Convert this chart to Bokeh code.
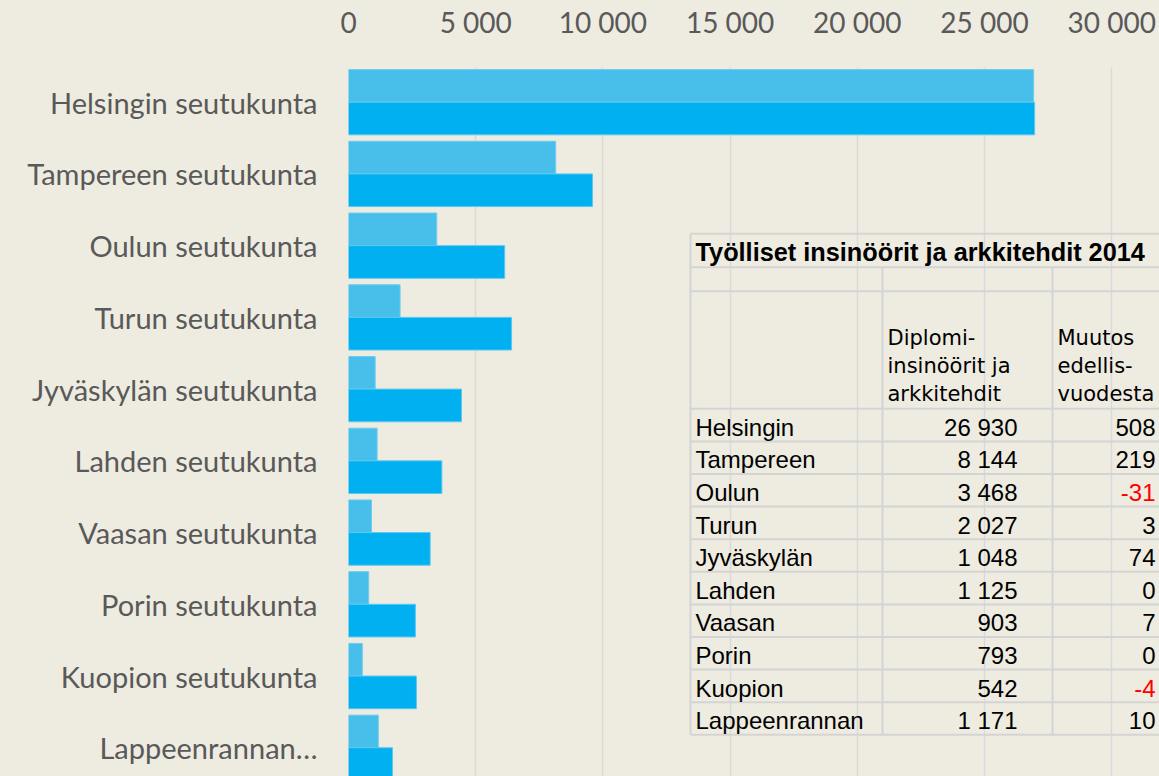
from bokeh.plotting import figure
from bokeh.models import Range1d, FixedTicker, ColumnDataSource, GlobalInlineStyleSheet
from bokeh.core.properties import value
from bokeh.embed import file_html
from bokeh.resources import INLINE

# ---------------- data ----------------
categories = ["Helsingin seutukunta", "Tampereen seutukunta", "Oulun seutukunta",
              "Turun seutukunta", "Jyväskylän seutukunta", "Lahden seutukunta",
              "Vaasan seutukunta", "Porin seutukunta", "Kuopion seutukunta",
              "Lappeenrannan seutukunta"]
category_labels = ["Helsingin seutukunta", "Tampereen seutukunta", "Oulun seutukunta",
                   "Turun seutukunta", "Jyväskylän seutukunta", "Lahden seutukunta",
                   "Vaasan seutukunta", "Porin seutukunta", "Kuopion seutukunta",
                   "Lappeenrannan…"]
diplomi = [26930, 8144, 3468, 2027, 1048, 1125, 903, 793, 542, 1171]
insinoorit = [26970, 9590, 6140, 6410, 4440, 3670, 3210, 2630, 2670, 1730]
muutos = [508, 219, -31, 3, 74, 0, 7, 0, -4, 10]
table_names = ["Helsingin", "Tampereen", "Oulun", "Turun", "Jyväskylän", "Lahden",
               "Vaasan", "Porin", "Kuopion", "Lappeenrannan"]
x_ticks = [0, 5000, 10000, 15000, 20000, 25000, 30000]
table_title = "Työlliset insinöörit ja arkkitehdit 2014"
header_col2 = ["Diplomi-", "insinöörit ja", "arkkitehdit"]
header_col3 = ["Muutos", "edellis-", "vuodesta"]

# ---------------- style ----------------
BG = "#EEEBE0"
TXT = "#595959"
LIGHT = "#48BEEA"
DARK = "#00B0F0"
GRID = "#D9D9D9"
TBL_LINE = "#D4D4D4"

W, H = 1159, 776
LEFT, TOP = 348, 67
PX_PER_5000 = 127.2
X_END = (W - LEFT) * 5000 / PX_PER_5000
BAND = 71.73
Y_TOP = -34.7 / BAND
Y_BOT = Y_TOP + (H - TOP) / BAND

p = figure(width=W, height=H, output_backend="svg", toolbar_location=None,
           x_axis_location="above",
           x_range=Range1d(0, X_END), y_range=Range1d(Y_BOT, Y_TOP),
           min_border_left=LEFT, min_border_right=0, min_border_top=TOP,
           min_border_bottom=0)
p.background_fill_color = BG
p.border_fill_color = BG
p.outline_line_color = None
p.stylesheets = [GlobalInlineStyleSheet(css="html, body { background-color: #EEEBE0; }")]

# axes
xa = p.xaxis[0]
xa.ticker = FixedTicker(ticks=x_ticks)
xa.major_label_overrides = {t: f"{t:,}".replace(",", " ") for t in x_ticks}
xa.axis_line_color = None
xa.major_tick_line_color = None
xa.minor_tick_line_color = None
xa.major_tick_out = 0
xa.major_tick_in = 0
xa.minor_tick_out = 0
xa.major_label_text_font = "Lato"
xa.major_label_text_font_size = "28px"
xa.major_label_text_color = TXT
xa.major_label_standoff = 29

ya = p.yaxis[0]
ya.ticker = FixedTicker(ticks=list(range(len(categories))))
ya.major_label_overrides = {i: lab for i, lab in enumerate(category_labels)}
ya.axis_line_color = None
ya.major_tick_line_color = None
ya.minor_tick_line_color = None
ya.major_tick_out = 0
ya.major_tick_in = 0
ya.minor_tick_out = 0
ya.major_label_text_font = "Lato"
ya.major_label_text_font_size = "29px"
ya.major_label_text_color = TXT
ya.major_label_standoff = 31

p.xgrid.grid_line_color = GRID
p.xgrid.grid_line_width = 1.5
p.ygrid.grid_line_color = None

# bars
idx = list(range(len(categories)))
BH = 0.455
src = ColumnDataSource(dict(
    y_light=[i - BH / 2 for i in idx], y_dark=[i + BH / 2 for i in idx],
    diplomi=diplomi, insinoorit=insinoorit))
p.hbar(y="y_light", left=0, right="diplomi", height=BH, source=src,
       fill_color=LIGHT, line_color="#6ACDF0", line_width=1)
p.hbar(y="y_dark", left=0, right="insinoorit", height=BH, source=src,
       fill_color=DARK, line_color="#5CC8F0", line_width=1)

# ---------------- table overlay (page px -> data) ----------------
def dx(px):
    return (px - LEFT) * 5000 / PX_PER_5000

def dy(py):
    return Y_TOP + (py - TOP) / BAND

T_LEFT, C1, C2 = 690, 882, 1052
T_TOP, TITLE_B, EMPTY_B, HEAD_B = 233.3, 266.7, 290.7, 408.3
ROW = 32.6
n = len(table_names)
row_bottoms = [HEAD_B + ROW * (k + 1) for k in range(n)]
T_BOT = row_bottoms[-1]

hlines = [T_TOP, TITLE_B, EMPTY_B, HEAD_B] + row_bottoms
p.segment(x0=[dx(T_LEFT)] * len(hlines), x1=[X_END] * len(hlines),
          y0=[dy(v) for v in hlines], y1=[dy(v) for v in hlines],
          line_color=TBL_LINE, line_width=2)
p.segment(x0=[dx(T_LEFT), dx(C1), dx(C2)], x1=[dx(T_LEFT), dx(C1), dx(C2)],
          y0=[dy(T_TOP), dy(TITLE_B), dy(TITLE_B)], y1=[dy(T_BOT)] * 3,
          line_color=TBL_LINE, line_width=2)

p.text(x=[dx(695)], y=[dy(251)], text=[table_title],
       text_font=value("Liberation Sans"), text_font_style="bold",
       text_font_size="25.3px", text_color="black", text_baseline="middle")

head_mid = [337.5, 365.2, 393.2]
p.text(x=[dx(887)] * 3, y=[dy(b) for b in head_mid], text=header_col2,
       text_font=value("DejaVu Sans"), text_font_size="21px",
       text_color="black", text_baseline="middle")
p.text(x=[dx(1057)] * 3, y=[dy(b) for b in head_mid], text=header_col3,
       text_font=value("DejaVu Sans"), text_font_size="21px",
       text_color="black", text_baseline="middle")

mid = [dy(b - 14.1) for b in row_bottoms]
p.text(x=[dx(695)] * n, y=mid, text=table_names,
       text_font=value("Liberation Sans"), text_font_size="24px",
       text_color="black", text_baseline="middle")
p.text(x=[dx(1017)] * n, y=mid, text=[f"{v:,}".replace(",", " ") for v in diplomi],
       text_font=value("Liberation Sans"), text_font_size="24px",
       text_color="black", text_baseline="middle", text_align="right")
p.text(x=[dx(1155)] * n, y=mid, text=[str(v) for v in muutos],
       text_font=value("Liberation Sans"), text_font_size="24px",
       text_color=["#FF0000" if v < 0 else "black" for v in muutos],
       text_baseline="middle", text_align="right")

open("out.html", "w").write(file_html(p, INLINE))
